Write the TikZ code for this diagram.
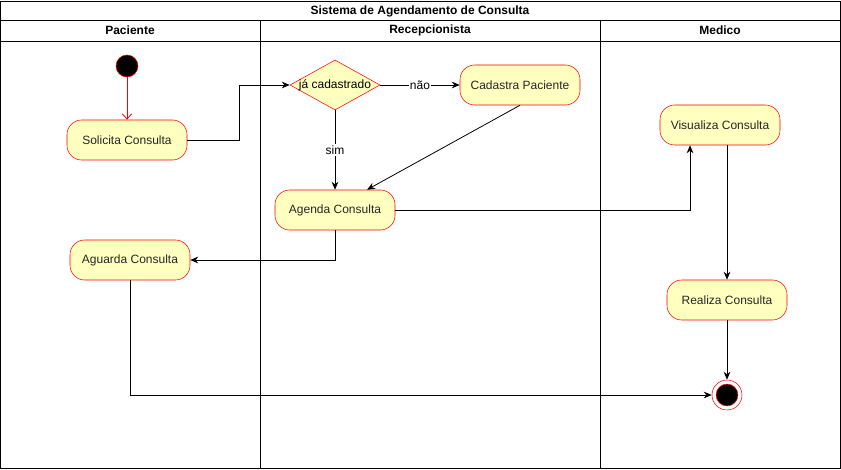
\documentclass[tikz,border=0pt]{standalone}
\usepackage{fontspec}
\setmainfont{Liberation Sans}
\usepackage{xcolor}
\usepackage{tikz}
\usetikzlibrary{arrows.meta, positioning, shapes.geometric}

\definecolor{actfill}{HTML}{FFFFC0}
\definecolor{actline}{HTML}{FF0000}

\begin{document}
\begin{tikzpicture}[
    x=0.75pt, y=-0.75pt,
    font=\fontsize{9pt}{11pt}\selectfont,
    action/.style={draw=actline, fill=actfill, rounded corners=11pt, minimum width=90pt, minimum height=30pt, align=center, text=black!85},
    decision/.style={draw=actline, fill=actfill, diamond, inner sep=0pt, minimum width=67.5pt, minimum height=37.5pt},
    initial/.style={draw=actline, fill=black, circle, inner sep=0pt, minimum size=16.5pt},
    final/.style={draw=actline, fill=white, circle, inner sep=0pt, minimum size=22.5pt,
        path picture={\filldraw[draw=actline, fill=black] (path picture bounding box.center) circle (8.2pt);}},
    flow/.style={-{Stealth[length=6pt, width=5pt]}, semithick},
    start/.style={-{Straight Barb[length=4pt, width=7pt]}, semithick, actline},
    lane/.style={font=\bfseries\fontsize{9pt}{11pt}\selectfont},
]
\useasboundingbox (0,0) rectangle (841,470);

% swimlanes
\draw[semithick] (0.5,1.5) rectangle (840,468);
\draw[semithick] (0.5,20) -- (840,20);
\draw[semithick] (0.5,41) -- (840,41);
\draw[semithick] (260,20) -- (260,468);
\draw[semithick] (600,20) -- (600,468);
\node[lane] (title) at (420,11) {Sistema de Agendamento de Consulta};
\node[lane] (paciente) at (130,30.5) {Paciente};
\node[lane] (recep) at (430,30.5) {Recepcionista};
\node[lane] (medico) at (720,30.5) {Medico};

% Paciente
\node[initial] (ini) at (127,66) {};
\node[action] (solicita) at (127,140) {Solicita Consulta};
\node[action] (aguarda) at (130,260) {Aguarda Consulta};

% Recepcionista
\node[decision] (cad) at (335,85) {\makebox[0pt]{já cadastrado}};
\node[action] (cadastra) at (520,85) {Cadastra Paciente};
\node[action] (agenda) at (335,210) {Agenda Consulta};

% Medico
\node[action] (visualiza) at (720,125) {Visualiza Consulta};
\node[action] (realiza) at (727,300) {Realiza Consulta};
\node[final] (fim) at (727,395) {};

% flows
\draw[start] (ini) -- (solicita);
\draw[flow] (solicita.east) -| (239,85) -- (cad.west);
\draw[flow] (cad.east) -- node[fill=white, inner sep=1pt] {não} (cadastra.west);
\draw[flow] (cad.south) -- node[fill=white, inner sep=1pt, pos=0.5] {sim} (agenda.north);
\draw[flow] (cadastra.south) -- ([xshift=24pt]agenda.north);
\draw[flow] (agenda.east) -| ([xshift=-22.5pt]visualiza.south);
\draw[flow] (agenda.south) |- (aguarda.east);
\draw[flow] ([xshift=5.25pt]visualiza.south) -- (realiza.north);
\draw[flow] (realiza.south) -- (fim.north);
\draw[flow] (aguarda.south) |- (fim.west);

\end{tikzpicture}
\end{document}
